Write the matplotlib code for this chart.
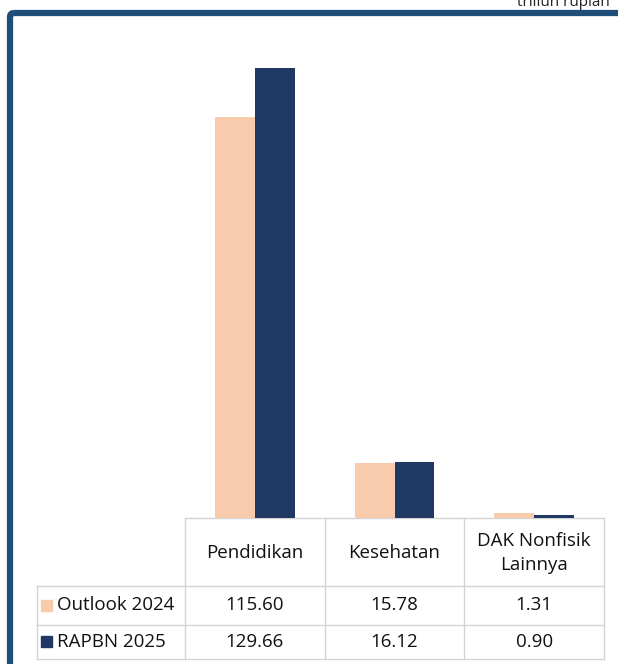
import matplotlib
matplotlib.use('Agg')
import numpy as np
from matplotlib import pyplot as plt
from matplotlib.patches import FancyBboxPatch, Rectangle

categories = ['Pendidikan', 'Kesehatan', 'DAK Nonfisik\nLainnya']
series_names = ['Outlook 2024', 'RAPBN 2025']
outlook_2024 = [115.60, 15.78, 1.31]
rapbn_2025 = [129.66, 16.12, 0.90]
colors = ['#F8CBAD', '#1F3864']

W, H = 618, 664
plt.rcParams['font.family'] = ['Open Sans', 'DejaVu Sans']

fig = plt.figure(figsize=(W / 100, H / 100), dpi=100)

# overlay axes in pixel coords for frame + table
deco = fig.add_axes([0, 0, 1, 1])
deco.set_xlim(0, W)
deco.set_ylim(H, 0)
deco.axis('off')

frame = FancyBboxPatch((10, 13), 700, 700, boxstyle='round,pad=0,rounding_size=4',
                       fill=False, ec='#1F4E79', lw=4.5, zorder=1)
deco.add_patch(frame)
deco.text(610, 3, 'triliun rupiah', ha='right', va='center', fontsize=11, color='#222222')

# bar axes: x from 185 to 604 px, baseline at 518 px
x0, x1, yb, yt = 185, 604, 518, 32
ax = fig.add_axes([x0 / W, 1 - yb / H, (x1 - x0) / W, (yb - yt) / H])
ax.patch.set_alpha(0)
n = len(categories)
x = np.arange(n)
bw = 0.285
ax.bar(x - bw / 2, outlook_2024, bw, color=colors[0], zorder=2)
ax.bar(x + bw / 2, rapbn_2025, bw, color=colors[1], zorder=2)
ax.set_xlim(-0.5, n - 0.5)
ax.set_ylim(0, 140)
ax.axis('off')

# data table
gc = '#D4D4D4'
cols = np.linspace(x0, x1, n + 1)
rows = [518, 586, 625, 659]
lx = 37
deco.plot([x0, x1], [rows[0], rows[0]], color=gc, lw=1)
for r in rows[1:]:
    deco.plot([lx, x1], [r, r], color=gc, lw=1)
for c in cols:
    deco.plot([c, c], [rows[0], rows[-1]], color=gc, lw=1)
deco.plot([lx, lx], [rows[1], rows[-1]], color=gc, lw=1)

fs = 13.5
for i, cat in enumerate(categories):
    cx = (cols[i] + cols[i + 1]) / 2
    deco.text(cx, (rows[0] + rows[1]) / 2 + 1, cat, ha='center', va='center',
              fontsize=fs, linespacing=1.4, color='#111111')
for j, (name, vals) in enumerate(zip(series_names, [outlook_2024, rapbn_2025])):
    cy = (rows[j + 1] + rows[j + 2]) / 2
    deco.add_patch(Rectangle((lx + 4, cy - 6), 11, 11, color=colors[j]))
    deco.text(lx + 20, cy, name, ha='left', va='center', fontsize=fs, color='#111111')
    for i, v in enumerate(vals):
        cx = (cols[i] + cols[i + 1]) / 2
        deco.text(cx, cy, f'{v:.2f}', ha='center', va='center', fontsize=fs, color='#111111')

fig.savefig('out.png', dpi=100)
